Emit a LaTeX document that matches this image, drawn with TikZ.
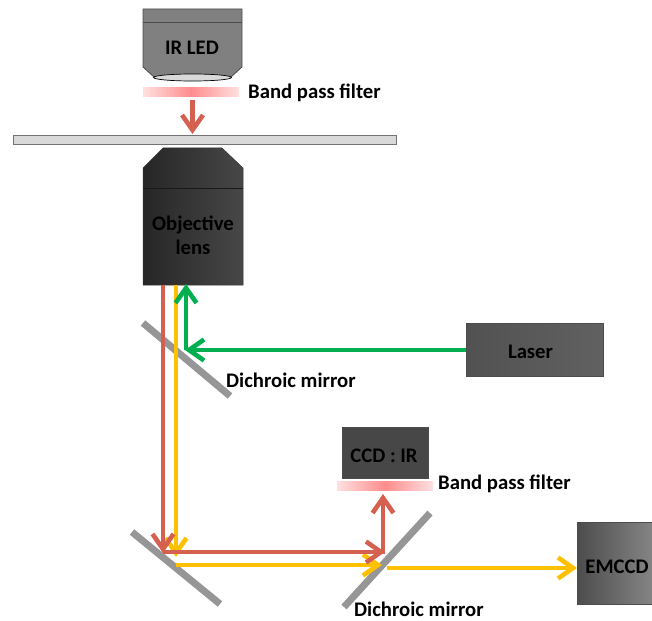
\documentclass[tikz,border=0pt]{standalone}
\usepackage{fontspec}
\setmainfont{Carlito}
\usetikzlibrary{arrows.meta}
\definecolor{redray}{HTML}{D6604F}
\definecolor{yellowray}{HTML}{FFC000}
\definecolor{greenray}{HTML}{00B050}
\definecolor{mirrorgray}{HTML}{969696}
\tikzset{
  ray/.style={line width=4.6pt,-{Straight Barb[length=15pt,width=21pt,line width=4.6pt]},shorten >=-1pt},
  mirror/.style={line width=7pt,mirrorgray},
  label/.style={font=\bfseries\fontsize{20.7}{24}\selectfont,text=black,inner sep=0pt},
  filter/.style={draw=none,minimum width=96pt,minimum height=9pt,inner sep=0pt,left color=red!12,right color=red!12,middle color=red!45!white},
  camera/.style={inner sep=0pt,draw=black!40!gray,line width=0.8pt}
}
\begin{document}
\begin{tikzpicture}[x=1pt,y=-1pt]
\useasboundingbox (0,0) rectangle (652,620);
% IR LED housing
\path[draw=black!70,line width=0.8pt,fill=black!50] (143,9) -- (242,9) -- (242,67) -- (231,77) -- (154,77) -- (143,67) -- cycle;
\draw[black!70,line width=0.8pt] (143,22) -- (242,22);
\draw[black,line width=0.7pt,fill=black!15] (192.5,77.5) ellipse (39 and 3.5);
\node[label] (irled) at (192,48) {IR LED};
\node[filter] (f1) at (191,92) {};
\node[label,anchor=west] (f1t) at (248,93) {Band pass filter};
% Slide
\node[draw=black!55,line width=0.8pt,inner sep=0pt,minimum width=383pt,minimum height=9pt,fill=black!15] (slide) at (204.5,139.5) {};
% Objective
\path[left color=black!85,right color=black!72,draw=black!80,line width=0.5pt] (163,148) -- (222,148) -- (243,168) -- (243,285) -- (143,285) -- (143,168) -- cycle;
\draw[black!90,line width=0.6pt] (143,188) -- (243,188);
\node[label,align=center] (obj) at (193,235) {Objective\\lens};
% Mirrors
\coordinate (m1a) at (143,323); \coordinate (m1b) at (230,396);
\coordinate (m2a) at (132,532); \coordinate (m2b) at (220,604);
\coordinate (m3a) at (430,513); \coordinate (m3b) at (344,607);
\draw[mirror] (m1a) -- (m1b);
\draw[mirror] (m2a) -- (m2b);
\draw[mirror] (m3a) -- (m3b);
\node[label,anchor=west] (m1t) at (226,380) {Dichroic mirror};
\node[label,anchor=west] (m3t) at (354,609) {Dichroic mirror};
% Devices
\node[camera,minimum width=137pt,minimum height=53pt,left color=black!68,right color=black!62] (laser) at (534.5,350) {};
\node[label] (lasert) at (530.5,352) {Laser};
\node[camera,minimum width=86pt,minimum height=51pt,fill=black!72] (ccd) at (385,452.5) {};
\node[label] (ccdt) at (384,456) {CCD : IR};
\node[filter] (f2) at (385,486) {};
\node[label,anchor=west] (f2t) at (438,484) {Band pass filter};
\node[camera,minimum width=76pt,minimum height=82pt,left color=black!70,right color=black!48] (em) at (615,563) {};
\node[label] (emt) at (617,567) {EMCCD};
% Ray way-points
\coordinate (objR) at (163,285); \coordinate (objY) at (176,285); \coordinate (objG) at (186,285);
\coordinate (r1) at (163,552); \coordinate (y1) at (176,556);
\coordinate (y1s) at (176,565);
\coordinate (r2) at (384,552); \coordinate (y2) at (381,565);
\coordinate (r3) at (383,495);
\coordinate (y3) at (387,568); \coordinate (y4) at (576,568);
\coordinate (g1) at (186,350);
\coordinate (l1) at (192.5,100); \coordinate (l2) at (192.5,133);
% Rays
\draw[ray,redray] (l1) -- (l2);
\draw[ray,yellowray] (objY) -- (y1);
\draw[ray,yellowray] (y1s) -- (y2);
\draw[ray,yellowray] (y3) -- (y4);
\draw[ray,redray] (objR) -- (r1);
\draw[ray,redray] (r1) -- (r2);
\draw[ray,redray] (383,554) -- (r3);
\draw[ray,greenray] (laser.west) -- (g1);
\draw[ray,greenray] (g1) -- (objG);
\end{tikzpicture}
\end{document}
